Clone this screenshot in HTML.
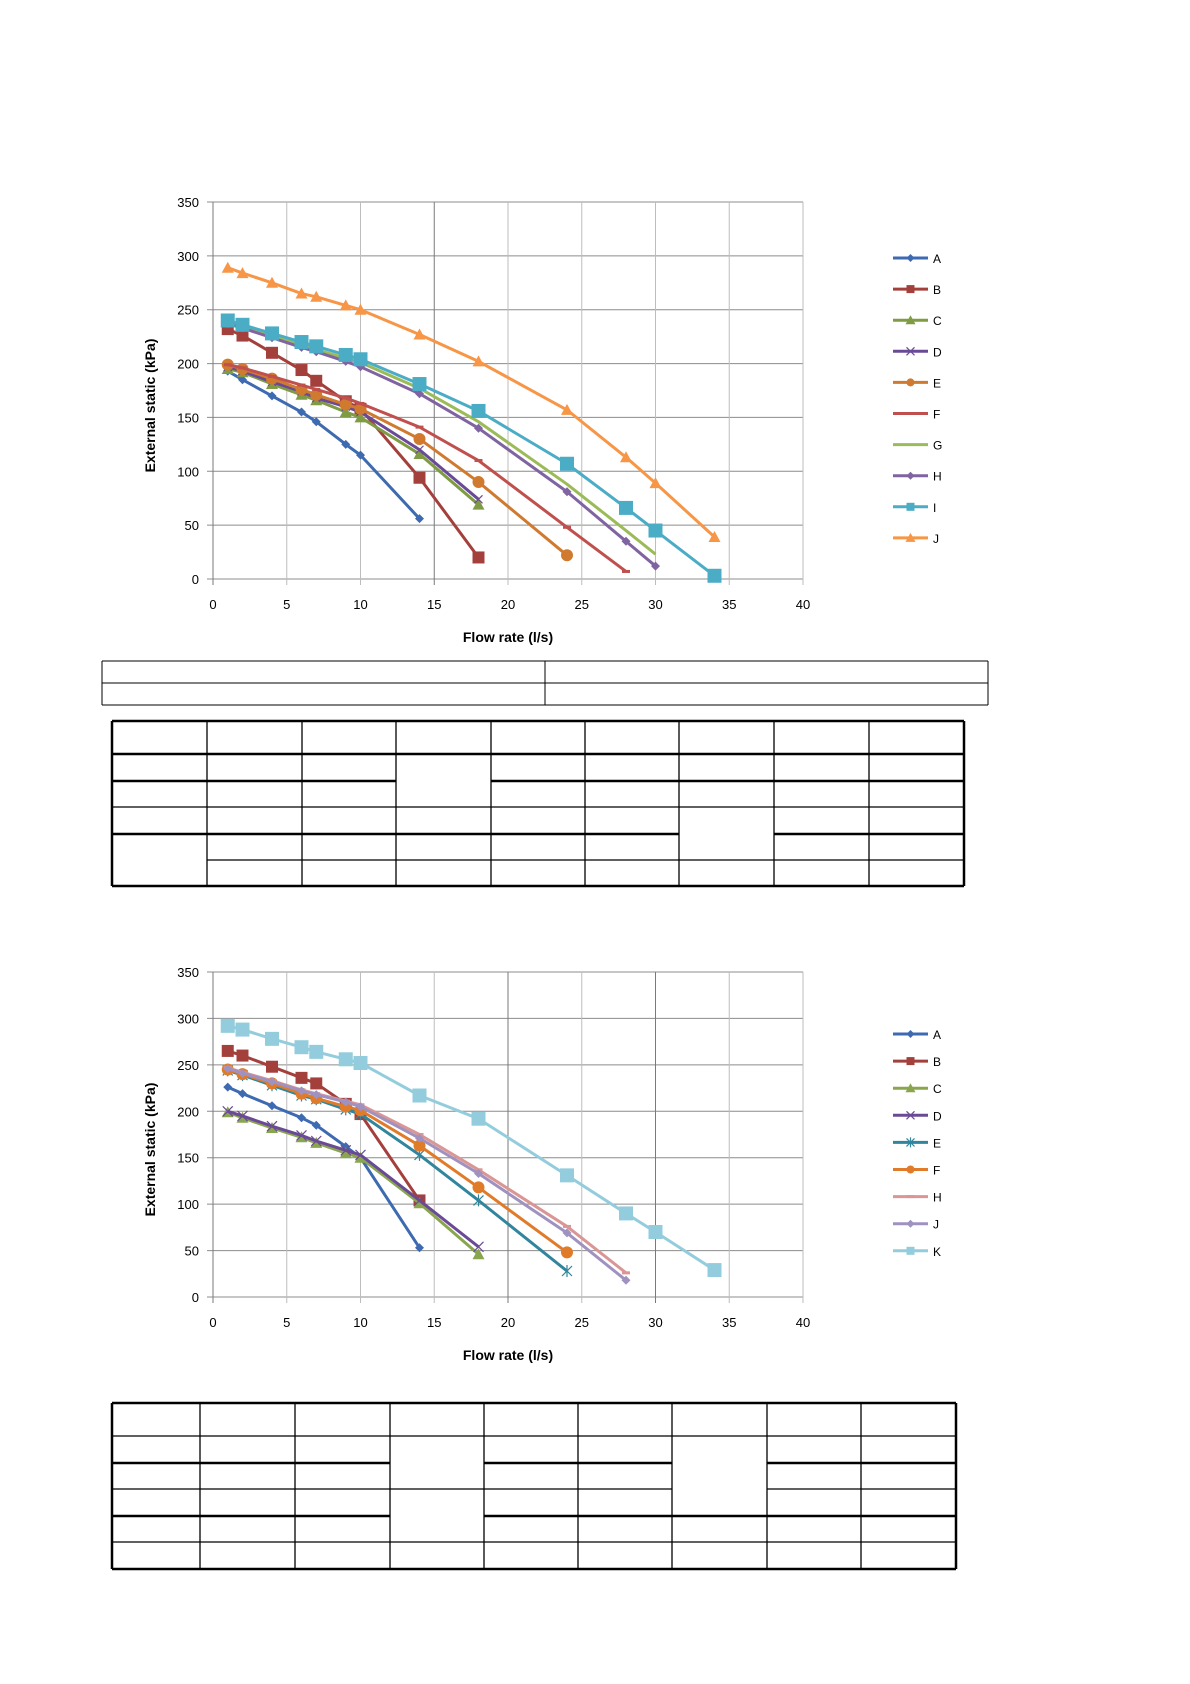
<!DOCTYPE html>
<html><head><meta charset="utf-8"><style>
html,body{margin:0;padding:0;background:#fff;}
body{width:1190px;height:1684px;position:relative;overflow:hidden;font-family:"Liberation Sans",sans-serif;}
svg{position:absolute;left:0;top:0;}
</style></head><body>
<svg id="main" width="1190" height="1684" xmlns="http://www.w3.org/2000/svg"></svg>
<script>
// ---------- Chart 1 data ----------
const c1Names = ["A","B","C","D","E","F","G","H","I","J"];
const c1Colors = ["#3d6ab0","#a4403c","#7f9c44","#6a4a96","#d07a30","#c0504d","#9bbb59","#8064a2","#4bacc6","#f79646"];
const c1Markers = ["diamond","square","triangle","x","circle","dash","none","diamond","square","triangle"];
const c1X = {
 A:[1,2,4,6,7,9,10,14],
 B:[1,2,4,6,7,9,10,14,18],
 C:[1,2,4,6,7,9,10,14,18],
 D:[1,2,4,6,7,9,10,14,18],
 E:[1,2,4,6,7,9,10,14,18,24],
 F:[1,2,4,6,7,9,10,14,18,24,28],
 G:[1,2,4,6,7,9,10,14,18,24,28,30],
 H:[1,2,4,6,7,9,10,14,18,24,28,30],
 I:[1,2,4,6,7,9,10,14,18,24,28,30,34],
 J:[1,2,4,6,7,9,10,14,18,24,28,30,34]
};
const c1A = [193,185,170,155,146,125,115,56];
const c1B = [232,226,210,194,184,165,158,94,20];
const c1C = [195,192,181,171,166,155,150,116,69];
const c1D = [197,193,183,174,168,160,155,120,74];
const c1E = [199,195,186,176,171,162,158,130,90,22];
const c1F = [199,196,188,180,176,168,163,141,110,48,7];
const c1G = [238,234,226,218,213,205,201,177,146,88,45,23];
const c1H = [237,233,224,215,211,202,197,172,140,81,35,12];
const c1I = [240,236,228,220,216,208,204,181,156,107,66,45,3];
const c1J = [289,284,275,265,262,254,250,227,202,157,113,89,39];
const c1Y = {A:c1A,B:c1B,C:c1C,D:c1D,E:c1E,F:c1F,G:c1G,H:c1H,I:c1I,J:c1J};

// ---------- Chart 2 data ----------
const c2Names = ["A","B","C","D","E","F","H","J","K"];
const c2Colors = ["#3d6ab0","#a4403c","#89a54e","#6a4a96","#31859c","#e07b2a","#d99694","#a092c0","#93cddd"];
const c2Markers = ["diamond","square","triangle","x","star","circle","dash","diamond","square"];
const c2X = {
 A:[1,2,4,6,7,9,10,14],
 B:[1,2,4,6,7,9,10,14],
 C:[1,2,4,6,7,9,10,14,18],
 D:[1,2,4,6,7,9,10,14,18],
 E:[1,2,4,6,7,9,10,14,18,24],
 F:[1,2,4,6,7,9,10,14,18,24],
 H:[1,2,4,6,7,9,10,14,18,24,28],
 J:[1,2,4,6,7,9,10,14,18,24,28],
 K:[1,2,4,6,7,9,10,14,18,24,28,30,34]
};
const c2A = [226,219,206,193,185,162,150,53];
const c2B = [265,260,248,236,230,208,197,104];
const c2C = [199,193,182,172,166,155,150,101,46];
const c2D = [200,195,184,174,168,158,153,104,54];
const c2E = [244,239,228,217,213,202,197,153,104,28];
const c2F = [245,240,230,219,214,205,201,163,118,48];
const c2H = [247,242,233,223,219,211,207,175,137,76,26];
const c2J = [246,241,232,222,218,210,205,171,133,69,18];
const c2K = [292,288,278,269,264,256,252,217,192,131,90,70,29];
const c2Y = {A:c2A,B:c2B,C:c2C,D:c2D,E:c2E,F:c2F,H:c2H,J:c2J,K:c2K};

const xTicks = [0,5,10,15,20,25,30,35,40];
const yTicks = [0,50,100,150,200,250,300,350];

const NS = "http://www.w3.org/2000/svg";
const svg = document.getElementById("main");
function mk(tag, attrs, parent){
  const e = document.createElementNS(NS, tag);
  for (const k in attrs) e.setAttribute(k, attrs[k]);
  (parent||svg).appendChild(e);
  return e;
}
function marker(g, type, cx, cy, col, s){
  let m;
  if (type==="diamond") m = mk("polygon",{points:`${cx},${cy-s} ${cx+s},${cy} ${cx},${cy+s} ${cx-s},${cy}`,fill:col},g);
  else if (type==="square") m = mk("rect",{x:cx-s,y:cy-s,width:2*s,height:2*s,fill:col},g);
  else if (type==="triangle") m = mk("polygon",{points:`${cx},${cy-s-1} ${cx+s+1},${cy+s} ${cx-s-1},${cy+s}`,fill:col},g);
  else if (type==="circle") m = mk("circle",{cx:cx,cy:cy,r:s,fill:col},g);
  else if (type==="x") m = mk("path",{d:`M${cx-s} ${cy-s}L${cx+s} ${cy+s}M${cx-s} ${cy+s}L${cx+s} ${cy-s}`,stroke:col,"stroke-width":1.2,fill:"none"},g);
  else if (type==="star") m = mk("path",{d:`M${cx-s} ${cy-s}L${cx+s} ${cy+s}M${cx-s} ${cy+s}L${cx+s} ${cy-s}M${cx} ${cy-s-1}L${cx} ${cy+s+1}`,stroke:col,"stroke-width":1.2,fill:"none"},g);
  else if (type==="dash") m = mk("rect",{x:cx-s,y:cy-1.5,width:2*s,height:3,fill:col},g);
  else return;
  
  
}

function chart(cfg){
  const {x0,x1,y0,y1,names,colors,markers,xs,ys,darkX,legX,legY,legStep,prefix,mSize} = cfg;
  const X = v => x0 + (v/40)*(x1-x0);
  const Y = v => y0 - (v/350)*(y0-y1);
  const g = mk("g",{});
  
  
  yTicks.forEach(t=>{
    const l = mk("line",{x1:x0-6,x2:x1,y1:Y(t),y2:Y(t),stroke:"#8c8c8c","stroke-width":1},g);
    
    
    const tx = mk("text",{x:x0-14,y:Y(t)+5,"text-anchor":"end","font-size":13,fill:"#000"},g);
    tx.textContent = t;
    
    
  });
  xTicks.forEach(t=>{
    const dark = darkX.includes(t);
    const l = mk("line",{x1:X(t),x2:X(t),y1:y1,y2:y0+6,stroke:dark?"#7a7a7a":"#bdbdbd","stroke-width":1},g);
    
    
    const tx = mk("text",{x:X(t),y:y0+30,"text-anchor":"middle","font-size":13,fill:"#000"},g);
    tx.textContent = t;
    
    
  });
  const ax = mk("line",{x1:x0,x2:x0,y1:y1,y2:y0+6,stroke:"#7a7a7a"},g);
  
  
  const xt = mk("text",{x:(x0+x1)/2,y:y0+63,"text-anchor":"middle","font-size":14,"font-weight":"bold",fill:"#000"},g);
  xt.textContent = "Flow rate (l/s)";
  
  
  const yc = (y0+y1)/2 + 15;
  const yt = mk("text",{x:0,y:0,transform:`translate(155,${yc}) rotate(-90)`,"text-anchor":"middle","font-size":14,"font-weight":"bold",fill:"#000"},g);
  yt.textContent = "External static (kPa)";
  
  
  names.forEach((n,i)=>{
    const sg = mk("g",{},g);
    
    
    const pts = xs[n].map((xv,j)=>X(xv)+","+Y(ys[n][j])).join(" ");
    const pl = mk("polyline",{points:pts,fill:"none",stroke:colors[i],"stroke-width":3,"stroke-linejoin":"round"},sg);
    
    
    xs[n].forEach((xv,j)=>marker(sg,markers[i],X(xv),Y(ys[n][j]),colors[i],mSize[i]));
    const ly = legY + i*legStep;
    const lg = mk("g",{},g);
    
    
    mk("line",{x1:legX,x2:legX+35,y1:ly,y2:ly,stroke:colors[i],"stroke-width":3},lg);
    marker(lg,markers[i],legX+17.5,ly,colors[i],4);
    const lt = mk("text",{x:legX+40,y:ly+5,"font-size":12,fill:"#000"},lg);
    lt.textContent = n;
  });
}

chart({x0:213,x1:803,y0:579,y1:202,names:c1Names,colors:c1Colors,markers:c1Markers,xs:c1X,ys:c1Y,darkX:[15],legX:893,legY:258,legStep:31.1,prefix:"top",mSize:[4.5,6,5,4,6,4,0,4.5,7,5]});
chart({x0:213,x1:803,y0:1297,y1:972,names:c2Names,colors:c2Colors,markers:c2Markers,xs:c2X,ys:c2Y,darkX:[20,30],legX:893,legY:1034,legStep:27.1,prefix:"bottom",mSize:[4.5,6,5,5,5,6,4,4.5,7]});

function line(x1,y1,x2,y2,w,name){
  const l = mk("line",{x1:x1,y1:y1,x2:x2,y2:y2,stroke:"#000","stroke-width":w});
  
  
}
line(102,661,988,661,1,"table1-border"); line(102,683,988,683,1,"table1-row-line"); line(102,705,988,705,1,"table1-border");
line(102,661,102,705,1,"table1-border"); line(545,661,545,705,1,"table1-col-line"); line(988,661,988,705,1,"table1-border");

function grid(cols, rows, skipH, skipV, thickH, name){
  for (let r=1;r<rows.length-1;r++){
    for (let c=0;c<cols.length-1;c++){
      if (skipH.some(s=>s[0]===r&&s[1]===c)) continue;
      const w = thickH.some(s=>s[0]===r&&s[1]===c)?2.5:1.3;
      line(cols[c],rows[r],cols[c+1],rows[r],w,name+"-row-line");
    }
  }
  for (let c=1;c<cols.length-1;c++){
    for (let r=0;r<rows.length-1;r++){
      if (skipV.some(s=>s[0]===c&&s[1]===r)) continue;
      line(cols[c],rows[r],cols[c],rows[r+1],1.3,name+"-col-line");
    }
  }
  const L=cols[0],R=cols[cols.length-1],T=rows[0],B=rows[rows.length-1];
  line(L,T,R,T,2.5,name+"-border");line(L,B,R,B,2.5,name+"-border");
  line(L,T,L,B,2.5,name+"-border");line(R,T,R,B,2.5,name+"-border");
}
const t2c=[112,207,302,396,491,585,679,774,869,964];
const t2r=[721,754,781,807,834,860,886];
grid(t2c,t2r,[[2,3],[5,0],[4,6]],[],[[1,0],[1,1],[1,2],[1,3],[1,4],[1,5],[1,6],[1,7],[1,8],[2,0],[2,1],[2,2],[2,4],[2,5],[2,6],[2,7],[2,8],[4,0],[4,1],[4,2],[4,3],[4,4],[4,5],[4,7],[4,8]],"table2");
const t3c=[112,200,295,390,484,578,672,767,861,956];
const t3r=[1403,1436,1463,1489,1516,1542,1569];
grid(t3c,t3r,[[2,3],[4,3],[2,6],[3,6]],[],[[2,0],[2,1],[2,2],[2,4],[2,5],[2,7],[2,8],[4,0],[4,1],[4,2],[4,4],[4,5],[4,6],[4,7],[4,8]],"table3");
</script>
</body></html>
